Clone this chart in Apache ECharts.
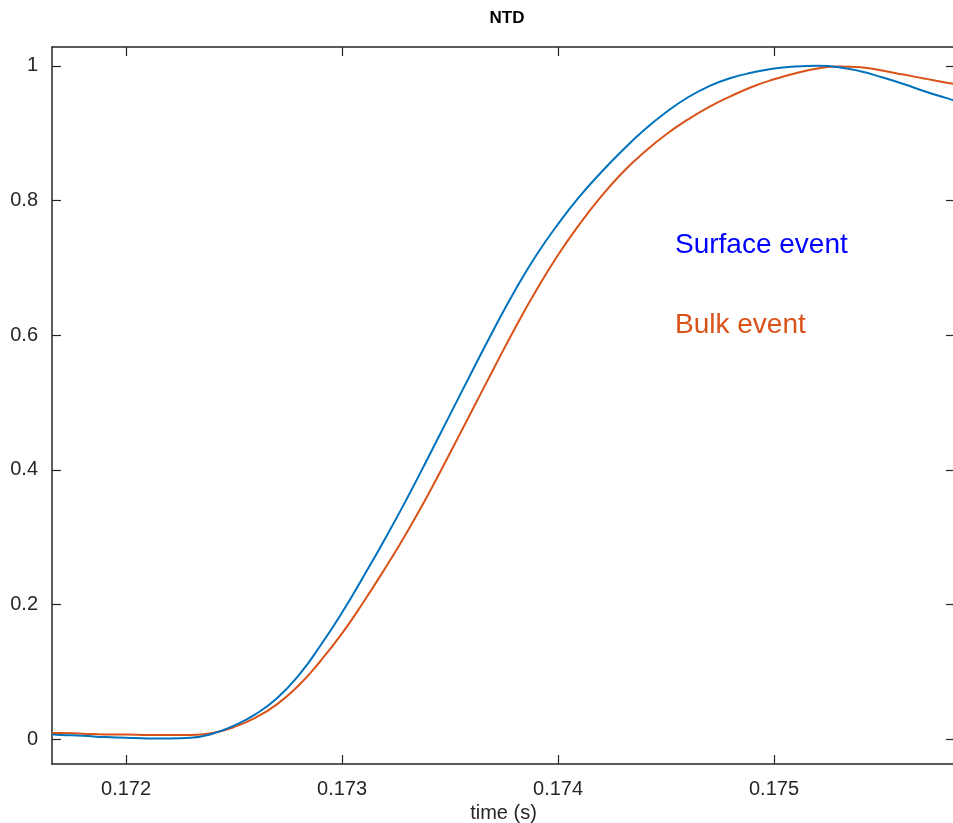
<!DOCTYPE html>
<html>
<head>
<meta charset="utf-8">
<title>NTD</title>
<script src="https://cdn.jsdelivr.net/npm/echarts@6/dist/echarts.min.js"></script>
<style>
  html, body { margin: 0; padding: 0; background: #fff; }
  #chart { width: 953px; height: 823px; }
</style>
</head>
<body>
<div id="chart"></div>
<script>
// pulse shapes (time in s, normalised amplitude)
const surfaceTime = [0.171657, 0.1717, 0.1718, 0.1719, 0.1720, 0.1721, 0.1722, 0.1723, 0.1724, 0.1725,
  0.1726, 0.1727, 0.1728, 0.1729, 0.1730, 0.1731, 0.1732, 0.1733, 0.1734, 0.1735,
  0.1736, 0.1737, 0.1738, 0.1739, 0.1740, 0.1741, 0.1742, 0.1743, 0.1744, 0.1745,
  0.1746, 0.1747, 0.1748, 0.1749, 0.1750, 0.1751, 0.1752, 0.1753, 0.1754, 0.1755,
  0.1756, 0.1757, 0.1758, 0.175838];
const surfaceAmp = [0.007, 0.006, 0.005, 0.003, 0.002, 0.001, 0.001, 0.002, 0.008, 0.020,
  0.037, 0.061, 0.095, 0.139, 0.188, 0.242, 0.298, 0.357, 0.419, 0.482,
  0.545, 0.607, 0.666, 0.719, 0.765, 0.806, 0.842, 0.875, 0.905, 0.931,
  0.953, 0.970, 0.982, 0.990, 0.996, 0.999, 1.000, 0.998, 0.992, 0.983,
  0.973, 0.962, 0.952, 0.948];

const bulkTime = [0.171657, 0.1717, 0.1718, 0.1719, 0.1720, 0.1721, 0.1722, 0.1723, 0.1724, 0.1725,
  0.1726, 0.1727, 0.1728, 0.1729, 0.1730, 0.1731, 0.1732, 0.1733, 0.1734, 0.1735,
  0.1736, 0.1737, 0.1738, 0.1739, 0.1740, 0.1741, 0.1742, 0.1743, 0.1744, 0.1745,
  0.1746, 0.1747, 0.1748, 0.1749, 0.1750, 0.1751, 0.1752, 0.1753, 0.1754, 0.1755,
  0.1756, 0.1757, 0.1758, 0.175838];
const bulkAmp = [0.009, 0.009, 0.008, 0.007, 0.007, 0.006, 0.006, 0.006, 0.009, 0.018,
  0.032, 0.052, 0.080, 0.116, 0.157, 0.204, 0.254, 0.307, 0.364, 0.425,
  0.487, 0.549, 0.610, 0.667, 0.719, 0.765, 0.806, 0.842, 0.872, 0.898,
  0.920, 0.939, 0.955, 0.969, 0.980, 0.989, 0.996, 0.999, 0.998, 0.993,
  0.987, 0.981, 0.975, 0.973];

const xTicks = [0.172, 0.173, 0.174, 0.175];
const yTicks = [0, 0.2, 0.4, 0.6, 0.8, 1];

const axisColor = '#262626';
const fontFamily = '"Liberation Sans", Arial, sans-serif';

const chart = echarts.init(document.getElementById('chart'), null, { renderer: 'canvas' });

const xBase = {
  type: 'value',
  min: 0.171657,
  max: 0.175838,
  splitLine: { show: false },
  axisLine: { onZero: false, lineStyle: { color: axisColor, width: 1.5 } },
  axisTick: { inside: true, length: 9, customValues: xTicks, lineStyle: { color: axisColor, width: 1.2 } }
};
const yBase = {
  type: 'value',
  min: -0.037,
  max: 1.028,
  splitLine: { show: false },
  axisLine: { show: true, onZero: false, lineStyle: { color: axisColor, width: 1.5 } },
  axisTick: { show: true, inside: true, length: 9, customValues: yTicks, lineStyle: { color: axisColor, width: 1.2 } }
};

const option = {
  animation: false,
  backgroundColor: '#fff',
  title: {
    text: 'NTD',
    left: 502,
    top: 5,
    textAlign: 'center',
    textStyle: { fontFamily: fontFamily, fontSize: 17, fontWeight: 'bold', color: '#000' }
  },
  grid: { left: 52, right: -2, top: 47, bottom: 59, outerBoundsMode: 'none', containLabel: false },
  xAxis: [
    Object.assign({}, xBase, {
      position: 'bottom',
      name: 'time (s)',
      nameLocation: 'middle',
      nameGap: 38,
      nameTextStyle: { fontFamily: fontFamily, fontSize: 20, color: axisColor },
      axisLabel: {
        customValues: xTicks,
        margin: 15,
        fontFamily: fontFamily,
        fontSize: 20,
        color: axisColor,
        formatter: v => v.toFixed(3)
      }
    }),
    Object.assign({}, xBase, {
      position: 'top',
      axisLabel: { show: false }
    })
  ],
  yAxis: [
    Object.assign({}, yBase, {
      position: 'left',
      axisLabel: {
        customValues: yTicks,
        margin: 14,
        fontFamily: fontFamily,
        fontSize: 20,
        color: axisColor,
        formatter: v => String(+v.toFixed(1))
      }
    }),
    Object.assign({}, yBase, {
      position: 'right',
      axisLabel: { show: false }
    })
  ],
  graphic: [
    {
      type: 'text',
      x: 675,
      y: 245,
      style: {
        text: 'Surface event',
        fill: '#0000ff',
        font: '28px ' + fontFamily,
        textVerticalAlign: 'middle'
      }
    },
    {
      type: 'text',
      x: 675,
      y: 325,
      style: {
        text: 'Bulk event',
        fill: '#d95319',
        font: '28px ' + fontFamily,
        textVerticalAlign: 'middle'
      }
    }
  ],
  series: [
    {
      name: 'Bulk event',
      type: 'line',
      data: bulkTime.map((t, i) => [t, bulkAmp[i]]),
      showSymbol: false,
      smooth: true,
      lineStyle: { color: '#d95319', width: 2 },
      itemStyle: { color: '#d95319' }
    },
    {
      name: 'Surface event',
      type: 'line',
      data: surfaceTime.map((t, i) => [t, surfaceAmp[i]]),
      showSymbol: false,
      smooth: true,
      lineStyle: { color: '#0072bd', width: 2 },
      itemStyle: { color: '#0072bd' }
    }
  ]
};

chart.setOption(option);
</script>
</body>
</html>
